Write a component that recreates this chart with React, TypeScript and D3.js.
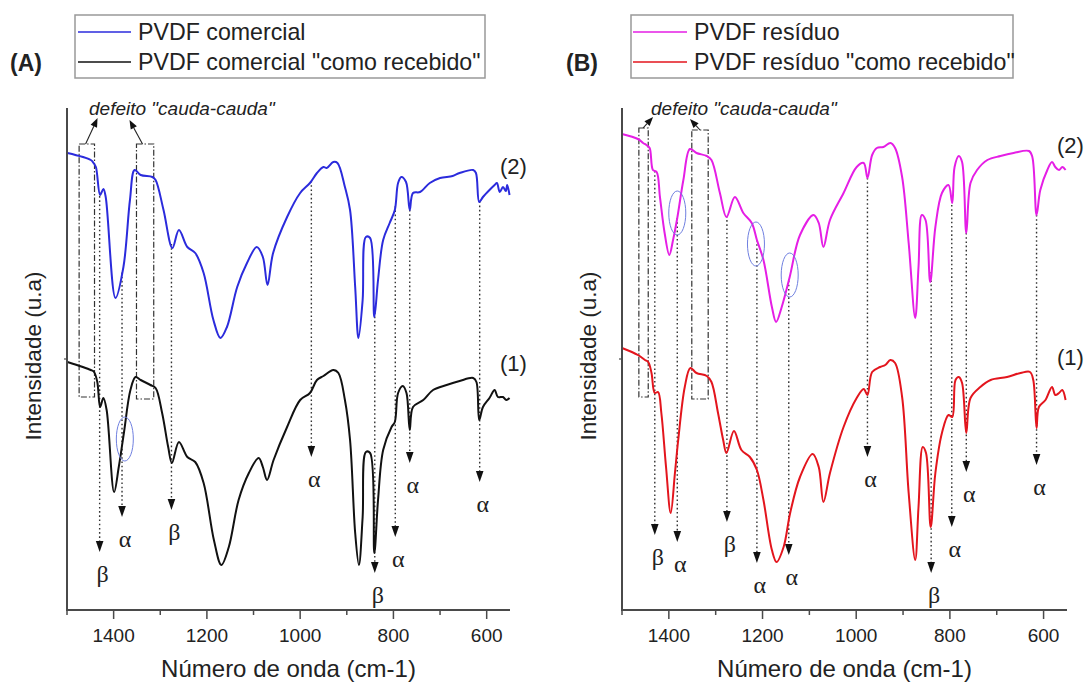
import React from 'react';
import * as d3 from 'd3';

const W = 1088;
const H = 683;

type Pt = [number, number];

// Panel A, upper curve (2): PVDF comercial
const blueA: Pt[] = [
  [1499, 457], [1449, 450], [1443, 447], [1438, 443], [1429, 415], [1422, 421], [1417, 413],
  [1396, 312], [1379, 343], [1365, 410], [1355, 440], [1342, 435], [1317, 433], [1310, 430],
  [1293, 400], [1274, 362], [1260, 380], [1242, 363], [1225, 357], [1207, 337], [1186, 290],
  [1171, 272], [1157, 283], [1135, 323], [1114, 347], [1093, 363], [1080, 353], [1070, 325],
  [1058, 357], [1028, 393], [1000, 417], [979, 427], [964, 437], [950, 443], [943, 442],
  [929, 448], [920, 447], [904, 423], [893, 400], [882, 323], [875, 272], [866, 310],
  [859, 373], [850, 372], [841, 293], [833, 330], [822, 370], [808, 387], [797, 400],
  [790, 427], [783, 433], [773, 428], [765, 400], [758, 417], [743, 418], [722, 427],
  [700, 432], [673, 434], [658, 437], [629, 440], [623, 437], [616, 408], [608, 413],
  [594, 420], [583, 425], [578, 427], [572, 418], [565, 423], [559, 419], [556, 425], [551, 415],
];

// Panel A, lower curve (1): PVDF comercial "como recebido"
const blackA: Pt[] = [
  [1499, 248], [1449, 240], [1442, 238], [1435, 228], [1429, 203], [1422, 212], [1415, 200],
  [1399, 118], [1389, 143], [1378, 177], [1364, 220], [1353, 233], [1342, 230], [1321, 225],
  [1310, 222], [1296, 197], [1283, 163], [1275, 147], [1260, 168], [1242, 153], [1225, 148],
  [1207, 127], [1185, 70], [1169, 45], [1153, 63], [1132, 110], [1110, 137], [1089, 152],
  [1080, 143], [1071, 130], [1057, 150], [1028, 183], [1000, 210], [979, 217], [964, 230],
  [950, 234], [929, 240], [918, 237], [904, 210], [893, 170], [882, 77], [874, 45],
  [866, 93], [859, 158], [850, 157], [841, 57], [833, 110], [822, 160], [804, 183],
  [797, 188], [790, 217], [780, 224], [772, 217], [765, 180], [758, 203], [736, 210],
  [715, 220], [686, 225], [658, 229], [629, 232], [622, 228], [616, 190], [608, 203],
  [594, 212], [583, 220], [576, 213], [565, 213], [558, 210], [551, 212],
];

// Panel B, upper curve (2): PVDF resíduo
const magentaB: Pt[] = [
  [1500, 476], [1466, 471], [1455, 467], [1448, 465], [1441, 462], [1434, 440], [1426, 438],
  [1419, 413], [1409, 377], [1399, 355], [1391, 370], [1382, 392], [1369, 430], [1355, 461],
  [1341, 457], [1319, 454], [1309, 450], [1291, 417], [1277, 393], [1259, 413], [1241, 397],
  [1223, 387], [1212, 370], [1198, 350], [1180, 303], [1171, 288], [1159, 303], [1142, 333],
  [1120, 375], [1091, 395], [1080, 387], [1070, 363], [1056, 390], [1027, 417], [999, 443],
  [984, 447], [976, 432], [966, 455], [956, 462], [942, 463], [927, 467], [917, 462],
  [902, 433], [888, 367], [874, 292], [867, 343], [860, 395], [852, 390], [842, 328],
  [831, 383], [817, 417], [803, 425], [795, 407], [790, 443], [781, 454], [774, 448],
  [765, 377], [756, 427], [742, 440], [720, 450], [692, 454], [664, 457], [631, 459],
  [624, 453], [615, 395], [607, 420], [592, 440], [582, 448], [575, 443], [567, 440],
  [560, 443], [553, 440],
];

// Panel B, lower curve (1): PVDF resíduo "como recebido"
const redB: Pt[] = [
  [1500, 262], [1466, 255], [1451, 250], [1444, 248], [1437, 237], [1430, 217], [1423, 218],
  [1416, 197], [1406, 143], [1396, 97], [1387, 137], [1380, 170], [1366, 223], [1354, 242],
  [1341, 237], [1319, 234], [1309, 228], [1295, 197], [1284, 170], [1277, 157], [1261, 179],
  [1245, 160], [1227, 153], [1212, 140], [1198, 110], [1180, 60], [1170, 48], [1155, 63],
  [1141, 97], [1120, 133], [1093, 156], [1080, 143], [1070, 108], [1056, 137], [1027, 183],
  [999, 212], [984, 221], [976, 215], [966, 238], [949, 243], [938, 245], [927, 250],
  [917, 247], [902, 213], [888, 117], [874, 50], [867, 103], [858, 163], [851, 157],
  [841, 83], [831, 137], [817, 177], [803, 195], [795, 193], [788, 230], [781, 233],
  [774, 227], [765, 177], [756, 212], [735, 223], [713, 230], [678, 233], [649, 237],
  [629, 238], [622, 230], [615, 182], [610, 203], [596, 210], [582, 223], [575, 215],
  [567, 217], [560, 220], [553, 210],
];

const xMajorTicks = [1400, 1200, 1000, 800, 600];
const xMinorTicks = [1500, 1300, 1100, 900, 700];

type Peak = { wn: number; label: string; tip: number };
const peaksA: Peak[] = [
  { wn: 1430, label: 'β', tip: 58 },
  { wn: 1382, label: 'α', tip: 93 },
  { wn: 1276, label: 'β', tip: 100 },
  { wn: 976, label: 'α', tip: 153 },
  { wn: 840, label: 'β', tip: 37 },
  { wn: 796, label: 'α', tip: 73 },
  { wn: 765, label: 'α', tip: 147 },
  { wn: 615, label: 'α', tip: 128 },
];
const peaksB: Peak[] = [
  { wn: 1430, label: 'β', tip: 75 },
  { wn: 1382, label: 'α', tip: 68 },
  { wn: 1276, label: 'β', tip: 88 },
  { wn: 1212, label: 'α', tip: 47 },
  { wn: 1144, label: 'α', tip: 55 },
  { wn: 976, label: 'α', tip: 153 },
  { wn: 840, label: 'β', tip: 37 },
  { wn: 796, label: 'α', tip: 83 },
  { wn: 765, label: 'α', tip: 138 },
  { wn: 615, label: 'α', tip: 145 },
];

type Defect = { from: number; to: number; top: number; bottom: number };
const defectsA: Defect[] = [
  { from: 1474, to: 1441, top: 466, bottom: 213 },
  { from: 1351, to: 1314, top: 466, bottom: 211 },
];
const defectsB: Defect[] = [
  { from: 1464, to: 1444, top: 482, bottom: 213 },
  { from: 1351, to: 1316, top: 480, bottom: 211 },
];

const ellipsesA: Pt[] = [[1376, 171]];
const ellipsesB: Pt[] = [[1382, 397], [1214, 366], [1142, 335]];

const legendA = ['PVDF comercial', 'PVDF comercial "como recebido"'];
const legendB = ['PVDF resíduo', 'PVDF resíduo "como recebido"'];
const defectText = 'defeito "cauda-cauda"';
const xTitle = 'Número de onda (cm-1)';
const yTitle = 'Intensidade (u.a)';

const SANS = '"Liberation Sans", Arial, Helvetica, sans-serif';
const SERIF = '"Liberation Serif", "Times New Roman", "DejaVu Serif", serif';

function interp(data: Pt[], wn: number): number {
  for (let i = 0; i < data.length - 1; i++) {
    const [x0, y0] = data[i];
    const [x1, y1] = data[i + 1];
    if ((wn <= x0 && wn >= x1) || (wn >= x0 && wn <= x1)) {
      const t = x1 === x0 ? 0 : (wn - x0) / (x1 - x0);
      return y0 + t * (y1 - y0);
    }
  }
  return data[data.length - 1][1];
}

type PanelProps = {
  left: number;
  right: number;
  upper: Pt[];
  lower: Pt[];
  upperColor: string;
  lowerColor: string;
  legend: string[];
  legendBox: [number, number];
  legendLine: [number, number];
  tag: string;
  peaks: Peak[];
  defects: Defect[];
  ellipses: Pt[];
  arrowTip: [[number, number], [number, number]];
  arrowStartFrac: [number, number];
  defectTextX: number;
  label2Y: number;
  label1Y: number;
  labelX: number;
};

function Panel(p: PanelProps) {
  const x = d3.scaleLinear().domain([1500, 550]).range([p.left, p.right]);
  const y = d3.scaleLinear().domain([0, 502]).range([610, 108]);
  const line = d3
    .line<Pt>()
    .x((d) => x(d[0]))
    .y((d) => y(d[1]))
    .curve(d3.curveCatmullRom.alpha(0.5));
  const axisColor = '#4a4a4a';
  const tagX = p.legendBox[0] - 65;
  return (
    <g>
      {/* defect dash-dot boxes */}
      {p.defects.map((d, i) => {
        const x0 = x(d.from);
        const x1 = x(d.to);
        const yt = y(d.top);
        const yb = y(d.bottom);
        const sx = x0 + (x1 - x0) * p.arrowStartFrac[i];
        const [dx, dy] = p.arrowTip[i];
        const tx = sx + dx;
        const ty = yt + dy;
        const ang = Math.atan2(ty - yt, tx - sx);
        const hl = 9;
        const hw = 3.5;
        const bx = tx - hl * Math.cos(ang);
        const by = ty - hl * Math.sin(ang);
        const nx = -Math.sin(ang);
        const ny = Math.cos(ang);
        return (
          <g key={'def' + i}>
            <rect
              x={x0}
              y={yt}
              width={x1 - x0}
              height={yb - yt}
              fill="none"
              stroke="#333"
              strokeWidth={1.2}
              strokeDasharray="6,2,1.5,2"
            />
            <line x1={sx} y1={yt} x2={bx} y2={by} stroke="#222" strokeWidth={1.1} />
            <polygon
              points={`${tx},${ty} ${bx + nx * hw},${by + ny * hw} ${bx - nx * hw},${by - ny * hw}`}
              fill="#111"
            />
          </g>
        );
      })}
      <text
        x={p.defectTextX}
        y={108}
        fontFamily={SANS}
        fontStyle="italic"
        fontSize={19}
        fill="#222"
        dominantBaseline="central"
      >
        {defectText}
      </text>

      {/* peak dotted arrows */}
      {p.peaks.map((pk, i) => {
        const px = x(pk.wn);
        const y0 = y(interp(p.upper, pk.wn));
        const yt = y(pk.tip);
        return (
          <g key={'pk' + i}>
            <line
              x1={px}
              y1={y0}
              x2={px}
              y2={yt - 9}
              stroke="#333"
              strokeWidth={1.4}
              strokeDasharray="1.6,2.6"
            />
            <polygon points={`${px - 3.8},${yt - 11} ${px + 3.8},${yt - 11} ${px},${yt}`} fill="#111" />
            <text
              x={px + 3}
              y={yt + 22}
              fontFamily={SERIF}
              fontSize={24}
              fill="#222"
              textAnchor="middle"
              dominantBaseline="central"
            >
              {pk.label}
            </text>
          </g>
        );
      })}

      {/* spectra */}
      <path d={line(p.upper) || ''} fill="none" stroke={p.upperColor} strokeWidth={2} />
      <path d={line(p.lower) || ''} fill="none" stroke={p.lowerColor} strokeWidth={2} />

      {/* ellipses */}
      {p.ellipses.map((e, i) => (
        <ellipse
          key={'el' + i}
          cx={x(e[0])}
          cy={y(e[1])}
          rx={8.5}
          ry={22}
          fill="none"
          stroke="#6f7fe0"
          strokeWidth={1}
        />
      ))}

      {/* curve labels */}
      <text x={p.labelX} y={p.label2Y} fontFamily={SANS} fontSize={22} fill="#222" dominantBaseline="central">
        (2)
      </text>
      <text x={p.labelX} y={p.label1Y} fontFamily={SANS} fontSize={22} fill="#222" dominantBaseline="central">
        (1)
      </text>

      {/* axes */}
      <line x1={p.left} y1={108} x2={p.left} y2={611} stroke={axisColor} strokeWidth={2} />
      <line x1={p.left - 3} y1={y(251)} x2={p.left} y2={y(251)} stroke={axisColor} strokeWidth={1.2} />
      <line x1={p.left - 1} y1={610} x2={p.right} y2={610} stroke={axisColor} strokeWidth={2} />
      {xMajorTicks.map((t) => (
        <g key={'M' + t}>
          <line x1={x(t)} y1={610} x2={x(t)} y2={619} stroke={axisColor} strokeWidth={1.5} />
          <text x={x(t)} y={642} textAnchor="middle" fontFamily={SANS} fontSize={19} fill="#222">
            {t}
          </text>
        </g>
      ))}
      {xMinorTicks.map((t) => (
        <line key={'m' + t} x1={x(t)} y1={610} x2={x(t)} y2={615} stroke={axisColor} strokeWidth={1.5} />
      ))}
      <text
        x={(p.left + p.right) / 2}
        y={677}
        textAnchor="middle"
        fontFamily={SANS}
        fontSize={24}
        fill="#222"
      >
        {xTitle}
      </text>
      <text
        transform={`translate(${p.left - 34},${356}) rotate(-90)`}
        textAnchor="middle"
        dominantBaseline="central"
        fontFamily={SANS}
        fontSize={22.5}
        fill="#222"
      >
        {yTitle}
      </text>

      {/* legend */}
      <rect
        x={p.legendBox[0]}
        y={15}
        width={p.legendBox[1] - p.legendBox[0]}
        height={63}
        fill="#fff"
        stroke="#999"
        strokeWidth={1.5}
      />
      {[p.upperColor, p.lowerColor].map((c, i) => (
        <g key={'lg' + i}>
          <line x1={p.legendLine[0]} y1={32 + i * 30} x2={p.legendLine[1]} y2={32 + i * 30} stroke={c} strokeWidth={1.5} />
          <text
            x={p.legendLine[1] + 7}
            y={32 + i * 30}
            fontFamily={SANS}
            fontSize={23.2}
            fill="#222"
            dominantBaseline="central"
          >
            {p.legend[i]}
          </text>
        </g>
      ))}
      <text x={tagX} y={63} fontFamily={SANS} fontWeight="bold" fontSize={23} fill="#222" dominantBaseline="central">
        {p.tag}
      </text>
    </g>
  );
}

export default function App() {
  return (
    <svg
      width={W}
      height={H}
      viewBox={`0 0 ${W} ${H}`}
      style={{ position: 'absolute', left: 0, top: 0, background: '#fff' }}
    >
      <rect x={0} y={0} width={W} height={H} fill="#fff" />
      <Panel
        left={67}
        right={510}
        upper={blueA}
        lower={blackA}
        upperColor="#2b2bdc"
        lowerColor="#111111"
        legend={legendA}
        legendBox={[75, 485]}
        legendLine={[78, 131]}
        tag="(A)"
        peaks={peaksA}
        defects={defectsA}
        ellipses={ellipsesA}
        arrowTip={[[12, -26], [-13, -24]]}
        arrowStartFrac={[0.42, 0.35]}
        defectTextX={89}
        label2Y={166}
        label1Y={363}
        labelX={500}
      />
      <Panel
        left={622}
        right={1067}
        upper={magentaB}
        lower={redB}
        upperColor="#e51ee5"
        lowerColor="#e3151d"
        legend={legendB}
        legendBox={[631, 1013]}
        legendLine={[633, 687]}
        tag="(B)"
        peaks={peaksB}
        defects={defectsB}
        ellipses={ellipsesB}
        arrowTip={[[10, -11], [-10, -11]]}
        arrowStartFrac={[0.45, 0.5]}
        defectTextX={651}
        label2Y={145}
        label1Y={357}
        labelX={1057}
      />
    </svg>
  );
}
